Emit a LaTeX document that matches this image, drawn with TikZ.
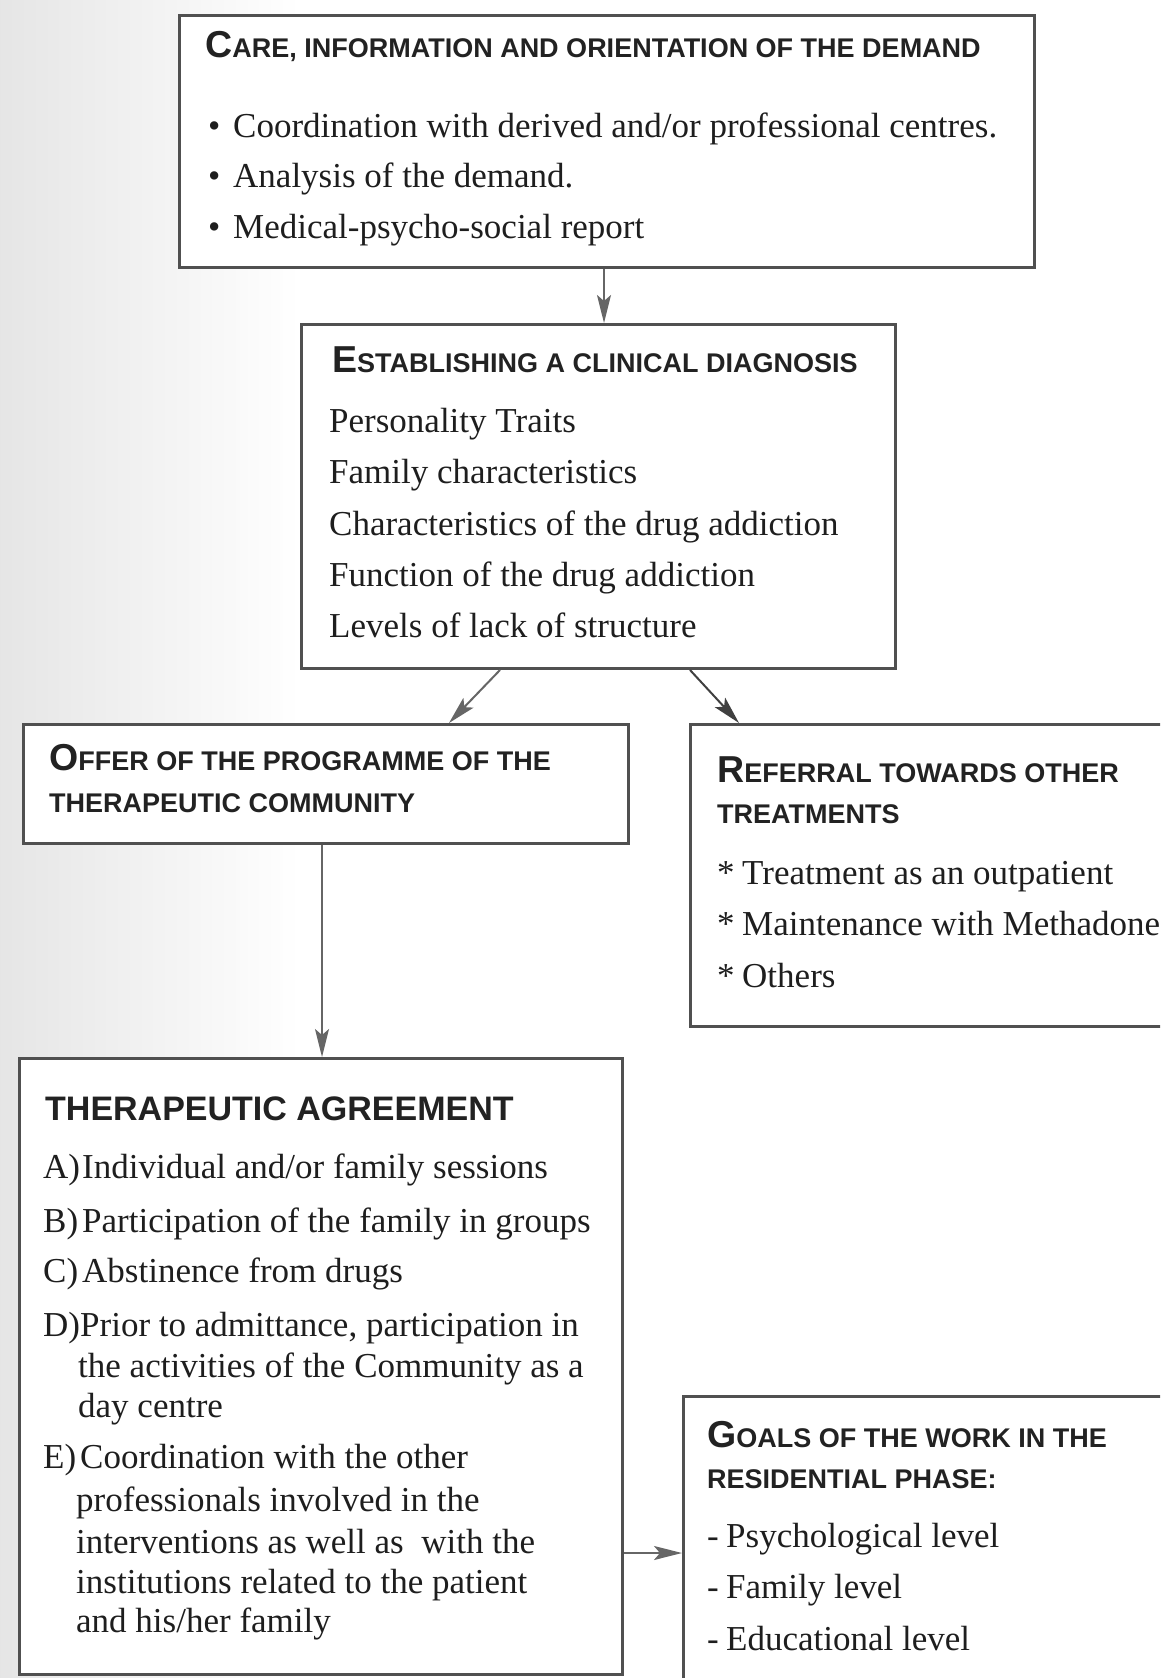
\documentclass[tikz,border=0pt]{standalone}
\usepackage{fontspec}
\setmainfont{Liberation Serif}
\setsansfont{Liberation Sans}
\usetikzlibrary{arrows.meta,calc}
\definecolor{boxc}{HTML}{505050}
\definecolor{arrc}{HTML}{666666}
\definecolor{textc}{HTML}{1E1E1E}
\definecolor{headc}{HTML}{222222}
\newcommand{\SCh}[2]{{\fontsize{37.5}{40}\selectfont #1}{\fontsize{27}{30}\selectfont #2}}
\newcommand{\SCs}[1]{{\fontsize{27}{30}\selectfont #1}}
\begin{document}
\begin{tikzpicture}[x=1pt,y=-1pt,
  boxn/.style={draw=boxc, line width=3pt, fill=white, rectangle, inner sep=0pt, anchor=north west},
  txt/.style={inner sep=0pt, anchor=base west, text=textc, font=\fontsize{35}{40}\selectfont},
  head/.style={inner sep=0pt, anchor=base west, text=headc, font=\sffamily\bfseries},
  arr/.style={draw=arrc, line width=2pt, -{Stealth[length=28pt,width=14pt,inset=6pt]}}
]
\useasboundingbox (0,0) rectangle (1160,1678);
\clip (0,0) rectangle (1160,1678);
\fill[left color=black!10, right color=white] (0,0) rectangle (300,1678);

% boxes
\node[boxn, minimum width=855pt, minimum height=252pt] (b1) at (178,14) {};
\node[boxn, minimum width=594pt, minimum height=344pt] (b2) at (300,323) {};
\node[boxn, minimum width=605pt, minimum height=119pt] (b3) at (22,723) {};
\node[boxn, minimum width=480pt, minimum height=302pt] (b5) at (689,723) {};
\node[boxn, minimum width=603pt, minimum height=616pt] (b4) at (18,1057) {};
\node[boxn, minimum width=490pt, minimum height=320pt] (b6) at (682,1395) {};

% box 1
\node[head] (h1) at (205,58) {\SCh{C}{ARE, INFORMATION AND ORIENTATION OF THE DEMAND}};
\node[txt] (p11) at (208,137) {\textbullet};
\node[txt] (t11) at (233,137) {Coordination with derived and/or professional centres.};
\node[txt] (p12) at (208,187) {\textbullet};
\node[txt] (t12) at (233,187) {Analysis of the demand.};
\node[txt] (p13) at (208,238) {\textbullet};
\node[txt] (t13) at (233,238) {Medical-psycho-social report};

% box 2
\node[head] (h2) at (332,372) {\SCh{E}{STABLISHING A CLINICAL DIAGNOSIS}};
\node[txt] (t21) at (329,432) {Personality Traits};
\node[txt] (t22) at (329,483) {Family characteristics};
\node[txt] (t23) at (329,535) {Characteristics of the drug addiction};
\node[txt] (t24) at (329,586) {Function of the drug addiction};
\node[txt] (t25) at (329,637) {Levels of lack of structure};

% box 3
\node[head] (h3a) at (49,770) {\SCh{O}{FFER OF THE PROGRAMME OF THE}};
\node[head] (h3b) at (49,812) {\SCs{THERAPEUTIC COMMUNITY}};

% box 5
\node[head] (h5a) at (717,782) {\SCh{R}{EFERRAL TOWARDS OTHER}};
\node[head] (h5b) at (717,823) {\SCs{TREATMENTS}};
\node[txt] (s51) at (717,884) {*};
\node[txt] (t51) at (742,884) {Treatment as an outpatient};
\node[txt] (s52) at (717,935) {*};
\node[txt] (t52) at (742,935) {Maintenance with Methadone};
\node[txt] (s53) at (717,987) {*};
\node[txt] (t53) at (742,987) {Others};

% box 4
\node[head, font=\sffamily\bfseries\fontsize{34}{38}\selectfont] (h4) at (45,1120) {THERAPEUTIC AGREEMENT};
\node[txt] (l4a) at (43,1178) {A)};
\node[txt] (t4a) at (82,1178) {Individual and/or family sessions};
\node[txt] (l4b) at (43,1232) {B)};
\node[txt] (t4b) at (82,1232) {Participation of the family in groups};
\node[txt] (l4c) at (43,1282) {C)};
\node[txt] (t4c) at (82,1282) {Abstinence from drugs};
\node[txt] (l4d) at (43,1336) {D)};
\node[txt] (t4d1) at (80,1336) {Prior to admittance, participation in};
\node[txt] (t4d2) at (78,1377) {the activities of the Community as a};
\node[txt] (t4d3) at (78,1417) {day centre};
\node[txt] (l4e) at (43,1468) {E)};
\node[txt] (t4e1) at (80,1468) {Coordination with the other};
\node[txt] (t4e2) at (76,1511) {professionals involved in the};
\node[txt] (t4e3) at (76,1553) {interventions as well as\ \ with the};
\node[txt] (t4e4) at (76,1593) {institutions related to the patient};
\node[txt] (t4e5) at (76,1632) {and his/her family};

% box 6
\node[head] (h6a) at (707,1447) {\SCh{G}{OALS OF THE WORK IN THE}};
\node[head] (h6b) at (707,1488) {\SCs{RESIDENTIAL PHASE:}};
\node[txt] (d61) at (707,1547) {-};
\node[txt] (t61) at (726,1547) {Psychological level};
\node[txt] (d62) at (707,1598) {-};
\node[txt] (t62) at (726,1598) {Family level};
\node[txt] (d63) at (707,1650) {-};
\node[txt] (t63) at (726,1650) {Educational level};

% connectors
\draw[arr] ($(b1.south west)+(426,0)$) -- ($(b2.north west)+(304,0)$);
\draw[arr] ($(b2.south west)+(200,0)$) -- ($(b3.north west)+(427,0)$);
\draw[arr, draw=black!75] ($(b2.south west)+(390,0)$) -- ($(b5.north west)+(50,0)$);
\draw[arr] ($(b3.south west)+(300,0)$) -- ($(b4.north west)+(304,0)$);
\draw[arr] ($(b4.north east)+(0,496)$) -- ($(b6.north west)+(0,158)$);
\end{tikzpicture}
\end{document}
